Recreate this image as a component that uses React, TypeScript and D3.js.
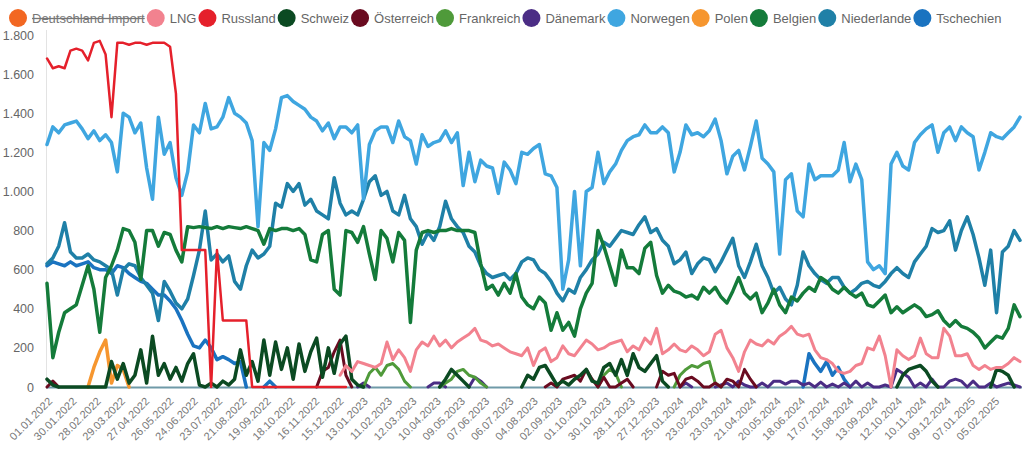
import React from "react";
import * as d3 from "d3";

// ---------- DATA (weekly samples, starting 01.01.2022) ----------
const START = new Date(2022, 0, 1);
const N_WEEKS = 167;

const tickLabels = [
  "01.01.2022", "30.01.2022", "28.02.2022", "29.03.2022", "27.04.2022", "26.05.2022", "24.06.2022", "23.07.2022",
  "21.08.2022", "19.09.2022", "18.10.2022", "16.11.2022", "15.12.2022", "13.01.2023", "11.02.2023", "12.03.2023",
  "10.04.2023", "09.05.2023", "07.06.2023", "06.07.2023", "04.08.2023", "02.09.2023", "01.10.2023", "30.10.2023",
  "28.11.2023", "27.12.2023", "25.01.2024", "23.02.2024", "23.03.2024", "21.04.2024", "20.05.2024", "18.06.2024",
  "17.07.2024", "15.08.2024", "13.09.2024", "12.10.2024", "10.11.2024", "09.12.2024", "07.01.2025", "05.02.2025",
];

const yTicks = [0, 200, 400, 600, 800, 1000, 1200, 1400, 1600, 1800];

const legendNames = [
  "Deutschland Import", "LNG", "Russland", "Schweiz", "Österreich", "Frankreich",
  "Dänemark", "Norwegen", "Polen", "Belgien", "Niederlande", "Tschechien",
];
const legendColors = [
  "#f26722", "#f2828f", "#e5202b", "#0b4a22", "#6a0b20", "#4f9a3a",
  "#4b2d85", "#3fa6e0", "#f6962f", "#147b3a", "#1f80a7", "#1a73c0",
];
const hiddenSeries = ["Deutschland Import"];

const norwegen = [
  1240, 1330, 1300, 1340, 1350, 1360, 1320, 1270, 1310, 1260,
  1290, 1250, 1100, 1400, 1380, 1300, 1350, 1120, 960, 1380,
  1190, 1250, 1070, 980, 1100, 1340, 1300, 1450, 1320, 1330,
  1380, 1480, 1400, 1380, 1350, 1260, 820, 1250, 1210, 1320,
  1480, 1490, 1460, 1440, 1420, 1380, 1360, 1310, 1350, 1270,
  1330, 1330, 1300, 1340, 960, 1240, 1310, 1330, 1330, 1250,
  1360, 1280, 1260, 1140, 1290, 1230, 1250, 1260, 1310, 1250,
  1300, 1030, 1200, 1050, 1160, 1130, 1120, 990, 1150, 1110,
  1040, 1200, 1190, 1220, 1240, 1090, 1080, 1020, 500, 650,
  1000, 620, 1000, 1020, 1200, 1040, 1100, 1140, 1210, 1260,
  1280, 1290, 1340, 1300, 1300, 1330, 1300, 1100, 1200, 1340,
  1290, 1300, 1280, 1310, 1370, 1260, 1090, 1180, 1210, 1110,
  1230, 1360, 1170, 1140, 1100, 680, 1060, 1090, 900, 870,
  1140, 1060, 1080, 1080, 1080, 1110, 1250, 1050, 1140, 1060,
  640, 600, 620, 580, 1140, 1200, 1130, 1110, 1250, 1290,
  1320, 1340, 1200, 1300, 1330, 1260, 1330, 1300, 1280, 1110,
  1200, 1300, 1280, 1270, 1300, 1330, 1380,
];

const niederlande = [
  630, 660, 720, 840, 690, 660, 660, 680, 650, 640,
  620, 600, 470, 600, 630, 620, 560, 520, 480, 340,
  540, 490, 430, 400, 450, 570, 700, 900, 650, 680,
  640, 670, 540, 500, 620, 700, 660, 680, 720, 940,
  920, 1040, 1000, 1040, 930, 960, 900, 880, 860, 1070,
  940, 880, 900, 880, 960, 1050, 1080, 980, 1000, 900,
  880, 980, 860, 820, 730, 790, 750, 820, 950, 860,
  820, 790, 720, 690, 620, 580, 560, 570, 580, 550,
  580, 640, 660, 650, 600, 580, 540, 480, 440, 500,
  480, 560, 600, 650, 680, 740, 720, 760, 800, 790,
  780, 830, 870, 790, 810, 750, 720, 630, 650, 690,
  580, 630, 660, 650, 590, 640, 700, 760, 620, 560,
  640, 730, 620, 560, 480, 510, 450, 420, 520, 690,
  620, 580, 550, 530, 560, 560, 510, 480, 500, 530,
  540, 520, 510, 540, 580, 610, 580, 560, 640, 680,
  720, 810, 790, 800, 850, 700, 800, 870, 780, 660,
  520, 700, 380, 690, 720, 800, 750,
];

const belgien = [
  530, 150, 280, 380, 400, 420, 520, 620, 500, 280,
  560, 620, 700, 810, 800, 740, 550, 800, 800, 720,
  790, 780, 700, 640, 820, 815, 820, 815, 810, 820,
  810, 820, 815, 810, 820, 810, 800, 730, 810, 800,
  810, 810, 800, 810, 780, 650, 640, 780, 800, 500,
  470, 800, 790, 740, 820, 680, 550, 800, 760, 640,
  790, 750, 330, 700, 790, 800, 790, 800, 800, 810,
  800, 800, 800, 790, 630, 500, 520, 470, 530, 480,
  580, 460, 420, 400, 460, 430, 290, 380, 290, 330,
  260, 400, 480, 530, 800, 720, 620, 520, 700, 610,
  610, 580, 710, 740, 570, 480, 520, 490, 480, 460,
  470, 450, 510, 480, 510, 460, 430, 490, 560, 480,
  450, 480, 380, 430, 500, 420, 380, 460, 440, 480,
  510, 490, 560, 540, 500, 480, 510, 480, 460, 480,
  420, 410, 440, 470, 380, 410, 380, 400, 420, 400,
  360, 370, 390, 340, 310, 340, 310, 300, 280, 250,
  200, 230, 260, 250, 300, 420, 360,
];

// [first week index, values]
type Segment = [number, number[]];

const lng: Segment[] = [[50, [
  60, 110, 80, 130, 120, 110, 100, 120, 230, 140,
  190, 150, 80, 190, 230, 210, 260, 210, 240, 200,
  230, 250, 270, 300, 240, 230, 210, 220, 200, 180,
  170, 160, 200, 110, 180, 200, 130, 150, 210, 170,
  160, 200, 240, 220, 190, 200, 220, 230, 240, 180,
  210, 190, 250, 220, 300, 170, 190, 220, 190, 180,
  210, 190, 160, 180, 270, 290, 200, 150, 80, 180,
  240, 220, 210, 240, 220, 260, 280, 310, 270, 260,
  270, 190, 150, 140, 120, 80, 70, 80, 110, 120,
  200, 190, 260, 160, 0, 190, 160, 140, 160, 250,
  170, 150, 150, 300, 260, 160, 160, 170, 110, 90,
  110, 90, 100, 100, 120, 150, 130,
]]];

const russland: Segment[] = [[0, [
  1680, 1630, 1640, 1630, 1720, 1730, 1720, 1670, 1760, 1770,
  1700, 1380, 1760, 1760, 1750, 1760, 1760, 1750, 1760, 1760,
  1760, 1740, 1500, 700, 700, 700, 700, 700, 0, 700,
  340, 340, 340, 340, 340, 0, 0, 0, 0, 0,
  0, 0, 0, 0, 0, 0, 0, 0, 0, 0, 0, 0,
]]];

const tschechien: Segment[] = [
  [0, [
    620, 640, 630, 620, 640, 620, 630, 640, 610, 600,
    600, 580, 620, 610, 580, 560, 540, 530, 500, 470,
    470, 440, 400, 340, 270, 210, 200, 240, 200, 140,
    155, 140, 120, 130, 0,
  ]],
  [37, [0, 30, 0]],
  [129, [0, 170, 120, 80, 130, 60, 100, 40, 0]],
];

const schweiz: Segment[] = [
  [0, [
    40, 10, 0, 0, 0, 0, 0, 0, 0, 0,
    0, 130, 40, 120, 20, 60, 190, 20, 260, 60,
    120, 40, 100, 30, 120, 170, 10, 0, 20, 0,
    30, 10, 40, 190, 60, 130, 30, 240, 60, 230,
    90, 200, 40, 220, 80, 180, 250, 50, 200, 70,
    220, 260, 40, 10, 0,
  ]],
  [67, [0, 40, 90, 60, 30, 0]],
  [81, [0, 60, 40, 100, 110, 60, 10, 30, 10, 40, 60, 90, 30, 20, 100, 120, 60, 140, 60, 170, 100, 80, 120, 160, 30, 0]],
  [145, [0, 60, 90, 100, 110, 80, 30, 0]],
  [161, [0, 90, 80, 60, 0]],
];

const oesterreich: Segment[] = [
  [0, [0, 30, 0]],
  [46, [0, 80, 100, 180, 240, 60, 0]],
  [85, [0, 20, 0, 40, 50, 60, 30, 90, 40, 0, 50, 0, 0, 20, 40, 0]],
  [104, [0, 80, 60, 70, 0, 40, 50, 30, 0, 0, 20, 0, 40, 30, 0, 90, 40, 0]],
];

const daenemark: Segment[] = [
  [53, [0, 20, 0]],
  [65, [0, 20, 20, 0]],
  [72, [0, 50, 30, 0]],
  [108, [0, 20, 0]],
  [114, [0, 10, 20, 0, 30, 10, 0]],
  [121, [
    0, 20, 0, 30, 30, 15, 30, 30, 10, 20,
    0, 25, 0, 15, 0, 20, 0, 30, 0, 20,
    0, 0, 10, 0, 90, 70, 50, 0, 20, 0,
    40, 0, 0, 30, 40, 30, 0, 30, 0, 0,
    20, 0, 10, 20, 10, 0,
  ]],
];

const frankreich: Segment[] = [
  [54, [0, 70, 100, 60, 110, 120, 90, 30, 0]],
  [67, [0, 20, 40, 80, 90, 60, 50, 20, 0]],
  [94, [0, 60, 90, 70, 0]],
  [107, [0, 60, 90, 110, 100, 120, 130, 20, 0]],
];

const polen: Segment[] = [[7, [0, 100, 180, 240, 20, 110, 90, 0]]];

// ---------- helpers ----------
function fromSegments(segs: Segment[]): (number | null)[] {
  const arr: (number | null)[] = new Array(N_WEEKS).fill(null);
  segs.forEach(([s, vals]) => vals.forEach((v, k) => { if (s + k < N_WEEKS) arr[s + k] = v; }));
  return arr;
}

const weekDates = d3.range(N_WEEKS).map((i) => d3.timeDay.offset(START, 7 * i));
const parseDE = d3.timeParse("%d.%m.%Y");
const deLocale = d3.formatLocale({ decimal: ",", thousands: ".", grouping: [3], currency: ["", " €"] });
const fmt = deLocale.format(",d");

const FONT = "'Liberation Sans', Arial, Helvetica, sans-serif";

let measureCtx: CanvasRenderingContext2D | null = null;
function textWidth(t: string, size: number) {
  if (!measureCtx) {
    const c = document.createElement("canvas");
    measureCtx = c.getContext("2d");
  }
  if (!measureCtx) return t.length * size * 0.55;
  measureCtx.font = `${size}px ${FONT}`;
  return measureCtx.measureText(t).width;
}

export default function App() {
  const W = 1028, H = 461;
  const x = d3.scaleTime().domain([START, weekDates[N_WEEKS - 1]]).range([47, 1020]);
  const y = d3.scaleLinear().domain([0, 1800]).range([387, 35]);

  const line = d3.line<number | null>()
    .defined((v) => v != null)
    .x((_, i) => x(weekDates[i]))
    .y((v) => y(v as number))
    .curve(d3.curveLinear);

  const colorOf = (n: string) => legendColors[legendNames.indexOf(n)];

  // drawing order: last legend entries at the bottom
  const series: { name: string; values: (number | null)[]; w: number }[] = [
    { name: "Tschechien", values: fromSegments(tschechien), w: 3.5 },
    { name: "Niederlande", values: niederlande, w: 3.5 },
    { name: "Belgien", values: belgien, w: 3.5 },
    { name: "Polen", values: fromSegments(polen), w: 3.5 },
    { name: "Norwegen", values: norwegen, w: 3.5 },
    { name: "Dänemark", values: fromSegments(daenemark), w: 3 },
    { name: "Frankreich", values: fromSegments(frankreich), w: 3 },
    { name: "Österreich", values: fromSegments(oesterreich), w: 3 },
    { name: "Schweiz", values: fromSegments(schweiz), w: 3.5 },
    { name: "Russland", values: fromSegments(russland), w: 2.5 },
    { name: "LNG", values: fromSegments(lng), w: 3 },
  ];

  // legend layout
  const legendFont = 13;
  let cx = 18;
  const legend = legendNames.map((name, i) => {
    const w = textWidth(name, legendFont);
    const item = { name, color: legendColors[i], cx, tx: cx + 14, w };
    cx = cx + w + 25;
    return item;
  });

  const ticks = tickLabels.map((t) => ({ t, d: parseDE(t) as Date }));

  return (
    <svg width={W} height={H} style={{ position: "absolute", left: 0, top: 0, background: "#fff" }}
      fontFamily={FONT}>
      <rect x={0} y={0} width={W} height={H} fill="#fff" />
      <line x1={46.5} x2={46.5} y1={30} y2={388} stroke="#e3e3e3" strokeWidth={1} />
      {yTicks.map((v) => (
        <text key={v} x={34} y={y(v) + 4.5} textAnchor="end" fontSize={12.5} fill="#666">{fmt(v)}</text>
      ))}
      <line x1={46} x2={1022} y1={y(0) + 0.5} y2={y(0) + 0.5} stroke="#6f9aa8" strokeWidth={2} />
      {series.map((s) => (
        <path key={s.name} d={line(s.values) || ""} fill="none" stroke={colorOf(s.name)}
          strokeWidth={s.w} strokeLinejoin="round" strokeLinecap="round" />
      ))}
      {ticks.map(({ t, d }) => {
        const px = x(d) + 6, py = 402;
        return (
          <text key={t} x={px} y={py} fontSize={11} fill="#777" textAnchor="end"
            transform={`rotate(-45 ${px} ${py})`}>{t}</text>
        );
      })}
      {legend.map((l) => {
        const hidden = hiddenSeries.includes(l.name);
        return (
          <g key={l.name}>
            <circle cx={l.cx} cy={18} r={9} fill={l.color} />
            <text x={l.tx} y={22.5} fontSize={legendFont} fill={hidden ? "#777" : "#666"}
              textDecoration={hidden ? "line-through" : undefined}>{l.name}</text>
          </g>
        );
      })}
    </svg>
  );
}
